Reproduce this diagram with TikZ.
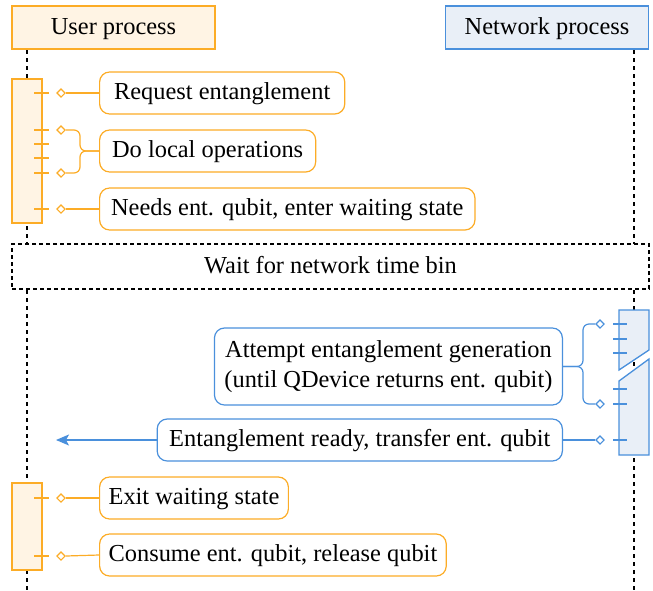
\documentclass[tikz,border=0pt]{standalone}
\usepackage{fontspec}
\setmainfont{Liberation Serif}
\usetikzlibrary{shapes.geometric,arrows.meta}

\definecolor{usr}{RGB}{252,172,38}
\definecolor{usrfill}{RGB}{255,244,228}
\definecolor{net}{RGB}{74,144,220}
\definecolor{netfill}{RGB}{233,239,247}

\tikzset{
  txt/.style={font=\fontsize{24.4}{29.5}\selectfont},
  oneline/.style={text height=16.7pt, text depth=3pt},
  header/.style={txt, oneline, draw, line width=1.3pt, minimum width=203, minimum height=43, inner sep=0pt},
  msg/.style={txt, draw, line width=1.2pt, rounded corners=10, minimum height=42, inner xsep=13.5, inner ysep=4, fill=white, align=center},
  usrmsg/.style={msg, oneline, draw=usr},
  netmsg/.style={msg, draw=net},
  lifeline/.style={black, line width=1.1pt, dash pattern=on 4pt off 4pt},
  bar/.style={line width=1.3pt},
  tick/.style={line width=1.1pt},
  link/.style={line width=1.2pt, rounded corners=6},
  port/.style={diamond, draw, fill=white, line width=1.1pt, inner sep=0pt, minimum width=8.5, minimum height=8.5},
}

\begin{document}
\begin{tikzpicture}[x=1pt, y=-1pt]
\useasboundingbox (0,0) rectangle (653,590);

% participants
\node[header, draw=usr, fill=usrfill] (user) at (113.5,27.5) {User process};
\node[header, draw=net, fill=netfill] (netw) at (547,27.5) {Network process};

% lifelines
\coordinate (ulTop) at (27,50);
\coordinate (ulEnd) at (27,590);
\coordinate (nlTop) at (634,50);
\coordinate (nlEnd) at (634,590);
\draw[lifeline] (ulTop) -- (ulEnd);
\draw[lifeline] (nlTop) -- (nlEnd);

% user activation, first phase
\draw[bar, draw=usr, fill=usrfill] (12,79) rectangle (42,223);
\foreach \y in {93,130,144,158,173,209}
  \draw[tick, usr] (34,\y) -- (49,\y);
\node[port, draw=usr] (p1) at (61,93) {};
\node[port, draw=usr] (p2) at (61,130) {};
\node[port, draw=usr] (p3) at (61,173) {};
\node[port, draw=usr] (p4) at (61,209) {};

\node[usrmsg, anchor=west, inner xsep=14.5] (m1) at (99,93) {Request entanglement};
\node[usrmsg, anchor=west, inner xsep=12.5] (m2) at (99,151) {Do local operations};
\node[usrmsg, anchor=west, inner xsep=11.5] (m3) at (99,209) {Needs ent. qubit, enter waiting state};

\draw[link, usr] (m1.west) -- (p1.east);
\draw[link, usr] (p2.east) -| (80,151) -- (m2.west);
\draw[link, usr] (p3.east) -| (80,151) -- (m2.west);
\draw[link, usr] (m3.west) -- (p4.east);

% time bin separator
\node[txt, oneline, draw, fill=white, line width=1.2pt, dash pattern=on 4pt off 3pt,
      minimum width=637, minimum height=45, inner sep=0pt] (bin) at (330.5,266.5)
      {Wait for network time bin};

% network activation, split by a break
\draw[bar, draw=net, fill=netfill] (619,310) -- (649,310) -- (649,350) -- (619,370) -- cycle;
\draw[bar, draw=net, fill=netfill] (619,381) -- (649,359) -- (649,455) -- (619,455) -- cycle;
\foreach \y in {324,339,353,389,404,440}
  \draw[tick, net] (613,\y) -- (627,\y);
\node[port, draw=net] (q1) at (600,324) {};
\node[port, draw=net] (q2) at (600,404) {};
\node[port, draw=net] (q3) at (600,440) {};

\node[netmsg, anchor=east, minimum height=77, inner xsep=10] (n1) at (563,366.5)
  {Attempt entanglement generation\\(until QDevice returns ent. qubit)};
\node[netmsg, oneline, anchor=east, inner xsep=12] (n2) at (563,440) {Entanglement ready, transfer ent. qubit};

\draw[link, net] (q1.west) -| (583,366.5) -- (n1.east);
\draw[link, net] (q2.west) -| (583,366.5) -- (n1.east);
\draw[link, net] (q3.west) -- (n2.east);

\coordinate (handover) at (56,440);
\draw[net, line width=1.2pt, -{Stealth[length=13pt, width=11pt, inset=3pt]}] (n2.west) -- (handover);

% user activation, second phase
\draw[bar, draw=usr, fill=usrfill] (12,483) rectangle (42,570);
\foreach \y in {498,556}
  \draw[tick, usr] (34,\y) -- (49,\y);
\node[port, draw=usr] (p5) at (61,498) {};
\node[port, draw=usr] (p6) at (61,556) {};

\node[usrmsg, anchor=west, inner xsep=9] (m4) at (99,498) {Exit waiting state};
\node[usrmsg, anchor=west, inner xsep=9] (m5) at (99,555) {Consume ent. qubit, release qubit};

\draw[link, usr] (m4.west) -- (p5.east);
\draw[link, usr] (m5.west) -- (p6.east);
\end{tikzpicture}
\end{document}
